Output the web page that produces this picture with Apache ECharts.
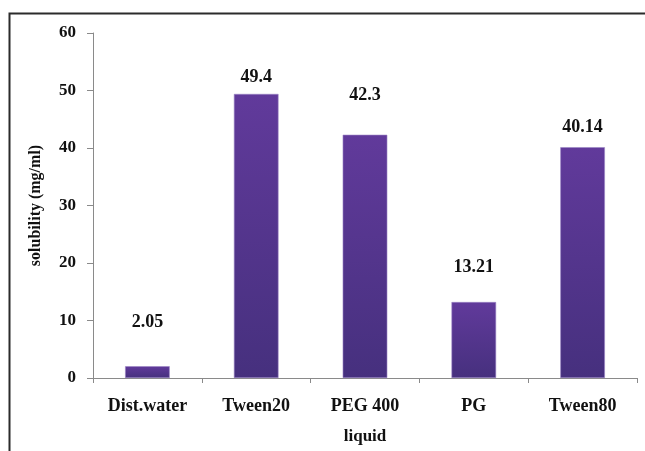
<!DOCTYPE html>
<html>
<head>
<meta charset="utf-8">
<script src="https://cdn.jsdelivr.net/npm/echarts@6/dist/echarts.min.js"></script>
<style>
  html, body { margin: 0; padding: 0; background: #fff; }
  #chart { width: 645px; height: 451px; }
</style>
</head>
<body>
<div id="chart"></div>
<script>
// Solubility of the drug in each liquid vehicle (mg/ml)
const categories = ['Dist.water', 'Tween20', 'PEG 400', 'PG', 'Tween80'];
const solubility = [2.05, 49.4, 42.3, 13.21, 40.14];
const valueLabels = ['2.05', '49.4', '42.3', '13.21', '40.14'];
const yTicks = [0, 10, 20, 30, 40, 50, 60];

// how far each value label sits above its bar (px)
const labelLift = [35, 8, 30, 26, 11];

const serif = '"Liberation Serif", "DejaVu Serif", serif';

const chart = echarts.init(document.getElementById('chart'));

const barFill = new echarts.graphic.LinearGradient(0, 0, 0, 1, [
  { offset: 0, color: '#613a9b' },
  { offset: 1, color: '#46307e' }
]);

chart.setOption({
  animation: false,
  backgroundColor: '#fff',
  graphic: [{
    type: 'rect',
    left: 7, top: 11,
    shape: { width: 700, height: 500 },
    style: { fill: 'none', stroke: '#2b2b2b', lineWidth: 2 },
    silent: true
  }],
  grid: { left: 93, right: 8, top: 33, bottom: 73 },
  xAxis: {
    type: 'category',
    data: categories,
    name: 'liquid',
    nameLocation: 'middle',
    nameGap: 50,
    nameTextStyle: { fontFamily: serif, fontWeight: 'bold', fontSize: 17, color: '#111' },
    axisLine: { lineStyle: { color: '#8a8a8a', width: 1 } },
    axisTick: { show: true, length: 5, lineStyle: { color: '#8a8a8a' } },
    axisLabel: { fontFamily: serif, fontWeight: 'bold', fontSize: 18, color: '#111', margin: 19 }
  },
  yAxis: {
    type: 'value',
    min: yTicks[0],
    max: yTicks[yTicks.length - 1],
    interval: yTicks[1] - yTicks[0],
    name: 'solubility (mg/ml)',
    nameLocation: 'middle',
    nameGap: 49,
    nameTextStyle: { fontFamily: serif, fontWeight: 'bold', fontSize: 16, color: '#111' },
    axisLine: { show: true, lineStyle: { color: '#8a8a8a', width: 1 } },
    axisTick: { show: true, length: 6, lineStyle: { color: '#8a8a8a' } },
    axisLabel: { fontFamily: serif, fontWeight: 'bold', fontSize: 17, color: '#111', margin: 17 },
    splitLine: { show: false }
  },
  series: [{
    type: 'bar',
    barWidth: '41%',
    data: solubility.map((v, i) => ({
      value: v,
      label: {
        show: true,
        position: 'top',
        distance: labelLift[i],
        formatter: valueLabels[i],
        fontFamily: serif,
        fontWeight: 'bold',
        fontSize: 18,
        color: '#111'
      }
    })),
    itemStyle: { color: barFill, borderColor: '#9a84c4', borderWidth: 0.6 }
  }]
});
</script>
</body>
</html>
